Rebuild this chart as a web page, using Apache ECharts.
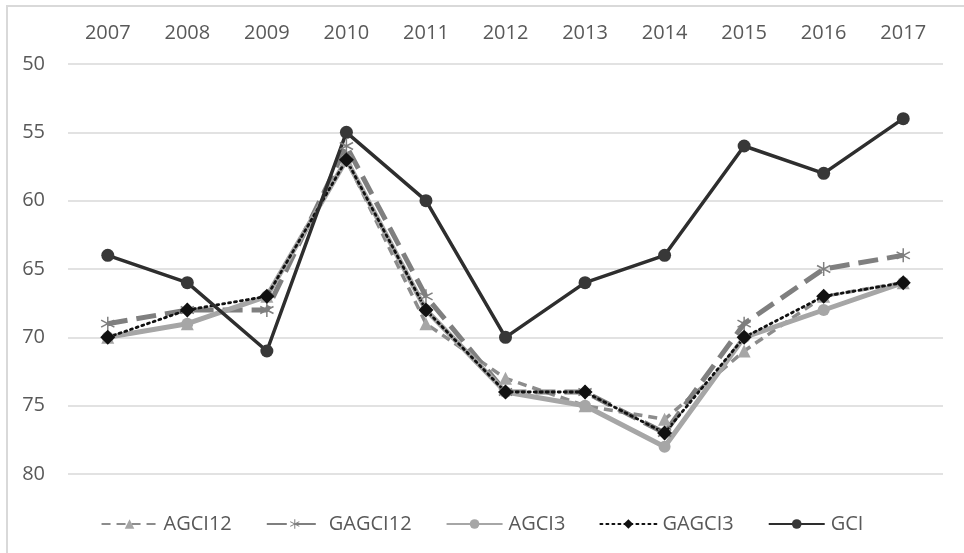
<!DOCTYPE html>
<html>
<head>
<meta charset="utf-8">
<script src="https://cdn.jsdelivr.net/npm/echarts@6/dist/echarts.min.js"></script>
<style>
  html, body { margin: 0; padding: 0; background: #fff; overflow: hidden; }
  #wrap { position: relative; width: 964px; height: 553px; overflow: hidden; }
  #frame { position: absolute; left: 6px; top: 5px; width: 1000px; height: 600px; border: 2px solid #d9d9d9; }
  #chart { position: absolute; left: 0; top: 0; width: 964px; height: 553px; }
</style>
</head>
<body>
<div id="wrap">
  <div id="frame"></div>
  <div id="chart"></div>
</div>
<script>
// years along the top axis
const years = ['2007', '2008', '2009', '2010', '2011', '2012', '2013', '2014', '2015', '2016', '2017'];

// ranks (axis is reversed, 50 at top)
const agci12 = [70, 69, 67, 57, 69, 73, 75, 76, 71, 67, 66];
const gagci12 = [69, 68, 68, 56, 67, 74, 74, 77, 69, 65, 64];
const agci3 = [70, 69, 67, 57, 68, 74, 75, 78, 70, 68, 66];
const gagci3 = [70, 68, 67, 57, 68, 74, 74, 77, 70, 67, 66];
const gci = [64, 66, 71, 55, 60, 70, 66, 64, 56, 58, 54];

const font = '"Open Sans", sans-serif';

// asterisk marker (Excel "star")
const starPath = 'path://M9,0 L11,0 L11,20 L9,20 Z M0.5,5.9 L1.5,4.1 L19.5,14.1 L18.5,15.9 Z M0.5,14.1 L18.5,4.1 L19.5,5.9 L1.5,15.9 Z';

const chart = echarts.init(document.getElementById('chart'));
chart.setOption({
  animation: false,
  textStyle: { fontFamily: font },
  grid: { left: 68, right: 21, top: 64, bottom: 79 },
  legend: {
    left: 'center',
    top: 509,
    itemWidth: 56,
    itemHeight: 12,
    itemGap: 34,
    textStyle: { fontSize: 20, color: '#595959', fontFamily: font, padding: [0, 0, 0, 1] },
    data: ['AGCI12', 'GAGCI12', 'AGCI3', 'GAGCI3', 'GCI']
  },
  xAxis: {
    type: 'category',
    position: 'top',
    data: years,
    boundaryGap: true,
    axisLine: { show: false },
    axisTick: { show: false },
    axisLabel: { fontSize: 20, color: '#595959', margin: 21 }
  },
  yAxis: {
    type: 'value',
    inverse: true,
    min: 50,
    max: 80,
    interval: 5,
    axisLine: { show: false },
    axisTick: { show: false },
    axisLabel: { fontSize: 20, color: '#595959', margin: 23 },
    splitLine: { lineStyle: { color: '#d9d9d9', width: 1.5 } }
  },
  series: [
    {
      name: 'AGCI12', type: 'line', data: agci12,
      symbol: 'triangle', symbolSize: 13,
      itemStyle: { color: '#a6a6a6' },
      lineStyle: { color: '#8c8c8c', width: 3.5, type: [9, 6] }
    },
    {
      name: 'GAGCI12', type: 'line', data: gagci12,
      symbol: starPath, symbolSize: 14,
      itemStyle: { color: '#7f7f7f' },
      lineStyle: { color: '#7f7f7f', width: 5, type: [20, 9] }
    },
    {
      name: 'AGCI3', type: 'line', data: agci3,
      symbol: 'circle', symbolSize: 12,
      itemStyle: { color: '#a6a6a6' },
      lineStyle: { color: '#a6a6a6', width: 5 }
    },
    {
      name: 'GAGCI3', type: 'line', data: gagci3,
      symbol: 'diamond', symbolSize: 15,
      itemStyle: { color: '#111111' },
      lineStyle: { color: '#111111', width: 2.8, type: [2, 4], cap: 'round' }
    },
    {
      name: 'GCI', type: 'line', data: gci,
      symbol: 'circle', symbolSize: 13,
      itemStyle: { color: '#383838' },
      lineStyle: { color: '#2e2e2e', width: 3.5 }
    }
  ]
});
</script>
</body>
</html>
